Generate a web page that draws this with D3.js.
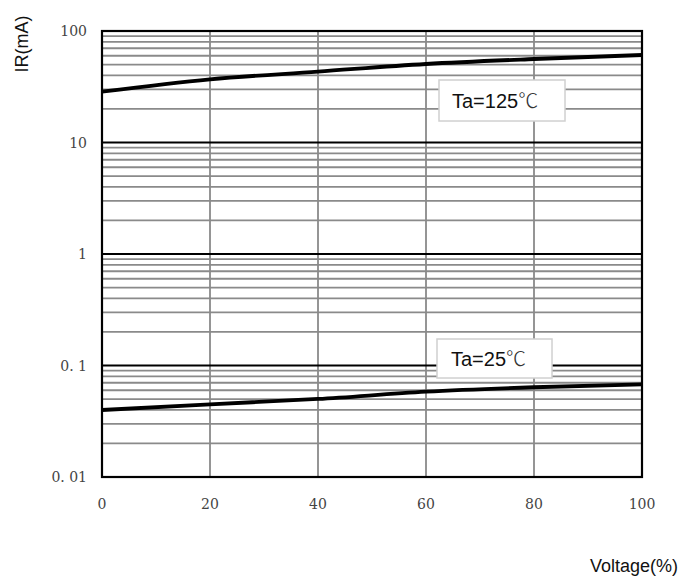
<!DOCTYPE html>
<html>
<head>
<meta charset="utf-8">
<script src="https://cdn.jsdelivr.net/npm/d3@7"></script>
<style>
  body { margin: 0; background: #fff; }
  svg { display: block; }
</style>
</head>
<body>
<svg width="683" height="578"></svg>
<script>
// reverse current vs voltage, two temperatures
const voltage = [0, 20, 40, 60, 80, 100];
const ir125 = [28.6, 36.9, 43.2, 50.6, 56.1, 60.9];
const ir25 = [0.0399, 0.0449, 0.0501, 0.0582, 0.0638, 0.0678];
const xTicks = [0, 20, 40, 60, 80, 100];
const yTicks = [0.01, 0.1, 1, 10, 100];
const yTickLabels = ["0. 01", "0. 1", "1", "10", "100"];
const seriesLabels = ["Ta=125", "Ta=25"];

const svg = d3.select('svg');
const plotLeft = 102, plotRight = 642, plotTop = 31, plotBottom = 477;

const x = d3.scaleLinear().domain([0, 100]).range([plotLeft, plotRight]);
const y = d3.scaleLog().domain([0.01, 100]).range([plotBottom, plotTop]);

// minor grid: 2..9 in each decade
const minor = [];
[0.01, 0.1, 1, 10].forEach(d => {
  for (let k = 2; k <= 9; k++) minor.push(k * d);
});

const grid = svg.append('g');
grid.selectAll('line.minor')
  .data(minor)
  .enter()
  .append('line')
    .attr('x1', plotLeft).attr('x2', plotRight)
    .attr('y1', d => y(d)).attr('y2', d => y(d))
    .attr('stroke', '#8a8a8a')
    .attr('stroke-width', 1.8);

// vertical grid
grid.selectAll('line.vert')
  .data(xTicks.slice(1, -1))
  .enter()
  .append('line')
    .attr('x1', d => x(d)).attr('x2', d => x(d))
    .attr('y1', plotTop).attr('y2', plotBottom)
    .attr('stroke', '#8a8a8a')
    .attr('stroke-width', 1.8);

// decade lines
grid.selectAll('line.major')
  .data(yTicks.slice(1, -1))
  .enter()
  .append('line')
    .attr('x1', plotLeft).attr('x2', plotRight)
    .attr('y1', d => y(d)).attr('y2', d => y(d))
    .attr('stroke', '#000')
    .attr('stroke-width', 2.2);

// frame
svg.append('rect')
  .attr('x', plotLeft).attr('y', plotTop)
  .attr('width', plotRight - plotLeft).attr('height', plotBottom - plotTop)
  .attr('fill', 'none')
  .attr('stroke', '#000')
  .attr('stroke-width', 2.2);

// curves
const line = d3.line()
  .x((d, i) => x(voltage[i]))
  .y(d => y(d))
  .curve(d3.curveMonotoneX);

[ir125, ir25].forEach(s => {
  svg.append('path')
    .attr('d', line(s))
    .attr('fill', 'none')
    .attr('stroke', '#000')
    .attr('stroke-width', 3.8);
});

// tick labels
svg.append('g').selectAll('text')
  .data(yTicks)
  .enter()
  .append('text')
    .text((d, i) => yTickLabels[i])
    .attr('x', 87)
    .attr('y', d => y(d) + 5)
    .attr('text-anchor', 'end')
    .attr('fill', '#444')
    .attr('font-size', 14)
    .attr('font-family', 'DejaVu Serif, serif');

svg.append('g').selectAll('text')
  .data(xTicks)
  .enter()
  .append('text')
    .text(d => d)
    .attr('x', d => x(d))
    .attr('y', 509)
    .attr('text-anchor', 'middle')
    .attr('fill', '#444')
    .attr('font-size', 14)
    .attr('font-family', 'DejaVu Serif, serif');

// axis titles
svg.append('text')
  .text('IR(mA)')
  .attr('transform', 'translate(28,44) rotate(-90)')
  .attr('text-anchor', 'middle')
  .attr('fill', '#111')
  .attr('font-size', 18)
  .attr('font-family', 'Liberation Sans, Arial, sans-serif');

svg.append('text')
  .text('Voltage(%)')
  .attr('x', 590)
  .attr('y', 572)
  .attr('fill', '#111')
  .attr('font-size', 18)
  .attr('font-family', 'Liberation Sans, Arial, sans-serif');

// annotation boxes
const boxes = [
  { bx: 439, by: 80, bw: 126, bh: 41, tx: 452, ty: 108 },
  { bx: 437, by: 339, bw: 115, bh: 39, tx: 451, ty: 366 }
];
boxes.forEach((b, i) => {
  svg.append('rect')
    .attr('x', b.bx).attr('y', b.by)
    .attr('width', b.bw).attr('height', b.bh)
    .attr('fill', '#fff')
    .attr('stroke', '#d0d0d0')
    .attr('stroke-width', 1.5);
  const t = svg.append('text')
    .attr('x', b.tx).attr('y', b.ty)
    .attr('fill', '#111')
    .attr('font-size', 20)
    .attr('font-family', 'Liberation Sans, Arial, sans-serif');
  t.append('tspan').text(seriesLabels[i]);
  t.append('tspan').text('℃')
    .attr('font-family', 'Noto Sans CJK SC')
    .attr('font-weight', 300)
    .attr('fill', '#333');
});
</script>
</body>
</html>
